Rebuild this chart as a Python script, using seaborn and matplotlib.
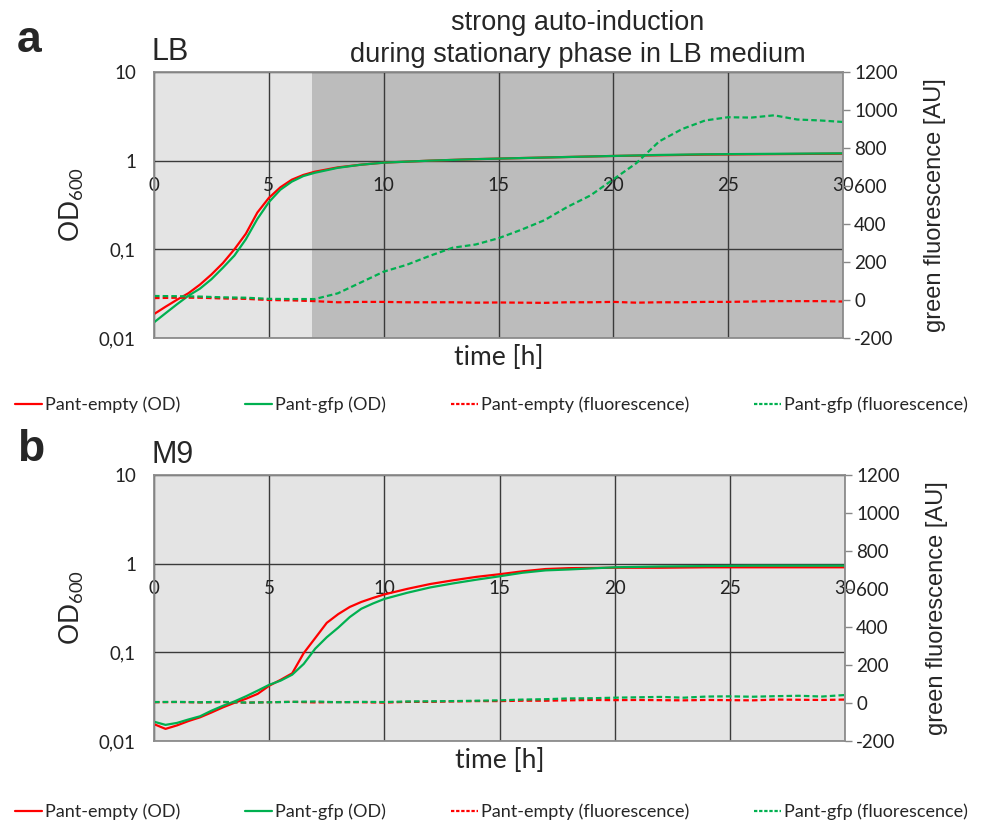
import matplotlib
matplotlib.use("Agg")
import matplotlib.pyplot as plt
import seaborn as sns
from matplotlib.lines import Line2D
from matplotlib.ticker import NullLocator

# ---- panel a (LB) ----
t_od_a = [0, 0.5, 1, 1.5, 2, 2.5, 3, 3.5, 4, 4.5, 5, 5.5, 6, 6.5, 7, 8, 9, 10,
          12, 14, 16, 18, 20, 22, 24, 26, 28, 30]
empty_od_a = [0.0186, 0.0225, 0.027, 0.032, 0.040, 0.052, 0.070, 0.10, 0.15, 0.26,
              0.38, 0.50, 0.61, 0.69, 0.75, 0.84, 0.90, 0.95, 1.00, 1.04, 1.07,
              1.10, 1.13, 1.15, 1.17, 1.18, 1.19, 1.20]
gfp_od_a = [0.0150, 0.019, 0.024, 0.030, 0.036, 0.046, 0.062, 0.085, 0.13, 0.22,
            0.34, 0.47, 0.58, 0.67, 0.73, 0.83, 0.90, 0.95, 1.00, 1.04, 1.07,
            1.10, 1.13, 1.16, 1.18, 1.19, 1.20, 1.21]

t_fl = list(range(0, 31))
empty_fl_a = [10, 12, 12, 8, 6, 0, -2, -6, -12, -10, -10, -12, -12, -12, -14, -13,
              -14, -15, -12, -12, -10, -14, -12, -12, -10, -10, -8, -6, -6, -6, -8]
gfp_fl_a = [21, 20, 18, 14, 12, 6, 5, 5, 35, 92, 149, 185, 232, 275, 292, 325,
            370, 420, 490, 550, 635, 720, 835, 900, 945, 962, 960, 972, 950, 945, 937]

# ---- panel b (M9) ----
t_od_b = [0, 0.5, 1, 1.5, 2, 2.5, 3, 3.5, 4, 4.5, 5, 5.5, 6, 6.5, 7, 7.5, 8, 8.5,
          9, 9.5, 10, 11, 12, 13, 14, 15, 16, 17, 18, 20, 22, 24, 26, 28, 30]
empty_od_b = [0.0155, 0.0137, 0.0150, 0.0168, 0.0185, 0.021, 0.024, 0.027, 0.030,
              0.034, 0.042, 0.049, 0.058, 0.098, 0.145, 0.215, 0.27, 0.325, 0.37,
              0.41, 0.45, 0.52, 0.59, 0.65, 0.71, 0.76, 0.82, 0.87, 0.89, 0.90,
              0.90, 0.91, 0.91, 0.91, 0.91]
gfp_od_b = [0.0165, 0.0152, 0.0160, 0.0175, 0.019, 0.022, 0.025, 0.028, 0.032,
            0.037, 0.043, 0.048, 0.056, 0.074, 0.11, 0.148, 0.19, 0.25, 0.31,
            0.355, 0.40, 0.47, 0.54, 0.60, 0.66, 0.72, 0.79, 0.84, 0.86, 0.91,
            0.93, 0.94, 0.95, 0.95, 0.95]

empty_fl_b = [4, 5, 3, 5, 2, 4, 6, 3, 5, 4, 2, 6, 6, 8, 10, 10, 12, 12, 14, 16,
              15, 16, 15, 14, 16, 15, 14, 18, 17, 16, 18]
gfp_fl_b = [5, 6, 4, 6, 2, 4, 6, 8, 4, 6, 5, 8, 9, 10, 12, 14, 18, 20, 24, 25,
            28, 30, 32, 28, 34, 35, 33, 36, 38, 34, 42]

od_ticks = [0.01, 0.1, 1, 10]
od_labels = ["0,01", "0,1", "1", "10"]
fl_ticks = list(range(-200, 1201, 200))
series_labels = ["Pant-empty (OD)", "Pant-gfp (OD)",
                 "Pant-empty (fluorescence)", "Pant-gfp (fluorescence)"]

RED = "#ff0000"
GREEN = "#00b050"
DASH = (0, (2.5, 1.4))
LW = 1.6
W, H = 1005, 835

sns.set_style("white")
plt.rcParams["font.family"] = ["Lato", "DejaVu Sans"]
plt.rcParams["mathtext.default"] = "regular"
plt.rcParams["axes.unicode_minus"] = False

fig = plt.figure(figsize=(W / 100, H / 100), dpi=100)


def fx(x):
    return x / W


def fy(y):
    return 1 - y / H


def draw_panel(rect, t_od, red_od, green_od, red_fl, green_fl, shade_from=None):
    ax = fig.add_axes(rect)
    ax.set_facecolor("#e4e4e4")
    if shade_from is not None:
        ax.axvspan(shade_from, 30, color="#bcbcbc", lw=0, zorder=1)

    sns.lineplot(x=t_od, y=red_od, ax=ax, color=RED, lw=LW, legend=False)
    sns.lineplot(x=t_od, y=green_od, ax=ax, color=GREEN, lw=LW, legend=False)
    ax.set_yscale("log")
    ax.set_ylim(0.01, 10)
    ax.set_xlim(0, 30)
    ax.set_yticks(od_ticks)
    ax.set_yticklabels(od_labels)
    ax.yaxis.set_minor_locator(NullLocator())
    ax.set_xticks(range(0, 31, 5))
    ax.grid(True, color="#3a3a3a", lw=1.0)
    ax.set_axisbelow("line")
    # Excel style: category axis crosses at OD = 1
    ax.spines["bottom"].set_position(("data", 1))
    for s in ax.spines.values():
        s.set_visible(False)
    ax.tick_params(axis="x", length=0, pad=12, labelsize=13.5, labelcolor="#222222")
    ax.tick_params(axis="y", length=0, pad=13, labelsize=13.5, labelcolor="#222222")
    ax.set_xlabel("")
    ax.set_ylabel("")

    ax2 = ax.twinx()
    sns.lineplot(x=t_fl, y=red_fl, ax=ax2, color=RED, lw=LW, linestyle=DASH, legend=False)
    sns.lineplot(x=t_fl, y=green_fl, ax=ax2, color=GREEN, lw=LW, linestyle=DASH, legend=False)
    ax2.set_ylim(-200, 1200)
    ax2.set_yticks(fl_ticks)
    ax2.tick_params(axis="y", length=5, width=1, color="#888888", pad=3,
                    labelsize=13.5, labelcolor="#222222")
    ax2.set_ylabel("")
    for s in ax2.spines.values():
        s.set_color("#8c8c8c")
        s.set_linewidth(1.3)

    ax.text(-0.119, 0.5, "OD$_{600}$", transform=ax.transAxes, rotation=90,
            ha="center", va="center", fontsize=19)
    ax.text(1.1335, 0.5, "green fluorescence [AU]", transform=ax.transAxes,
            rotation=90, ha="center", va="center", fontsize=17,
            family="Liberation Sans")
    ax.text(0.5, -0.028, "time [h]", transform=ax.transAxes, ha="center",
            va="top", fontsize=19)
    return ax


def add_legend(y):
    handles = [
        Line2D([], [], color=RED, lw=LW),
        Line2D([], [], color=GREEN, lw=LW),
        Line2D([], [], color=RED, lw=LW, linestyle=(0, (1.5, 0.8))),
        Line2D([], [], color=GREEN, lw=LW, linestyle=(0, (1.5, 0.8))),
    ]
    fig.legend(handles, series_labels, loc="center", bbox_to_anchor=(0.489, fy(y)),
               ncol=4, frameon=False, fontsize=13, handlelength=1.5,
               handletextpad=0.15, columnspacing=3.6)


draw_panel([fx(154), fy(338), 689 / W, 266 / H], t_od_a, empty_od_a, gfp_od_a,
           empty_fl_a, gfp_fl_a, shade_from=6.9)
draw_panel([fx(154), fy(741), 691 / W, 266 / H], t_od_b, empty_od_b, gfp_od_b,
           empty_fl_b, gfp_fl_b)

add_legend(405)
add_legend(812)

arial = "Liberation Sans"
fig.text(fx(17), fy(52), "a", fontsize=32, fontweight="bold", family=arial, va="baseline")
fig.text(fx(17), fy(461), "b", fontsize=32, fontweight="bold", family=arial, va="baseline")
fig.text(fx(152), fy(60), "LB", fontsize=22, family=arial, va="baseline")
fig.text(fx(152), fy(463), "M9", fontsize=22, family=arial, va="baseline")
fig.text(fx(578), fy(30), "strong auto-induction", fontsize=19.5, family=arial,
         ha="center", va="baseline")
fig.text(fx(578), fy(62), "during stationary phase in LB medium", fontsize=19.5,
         family=arial, ha="center", va="baseline")

fig.savefig("out.png", dpi=100)
